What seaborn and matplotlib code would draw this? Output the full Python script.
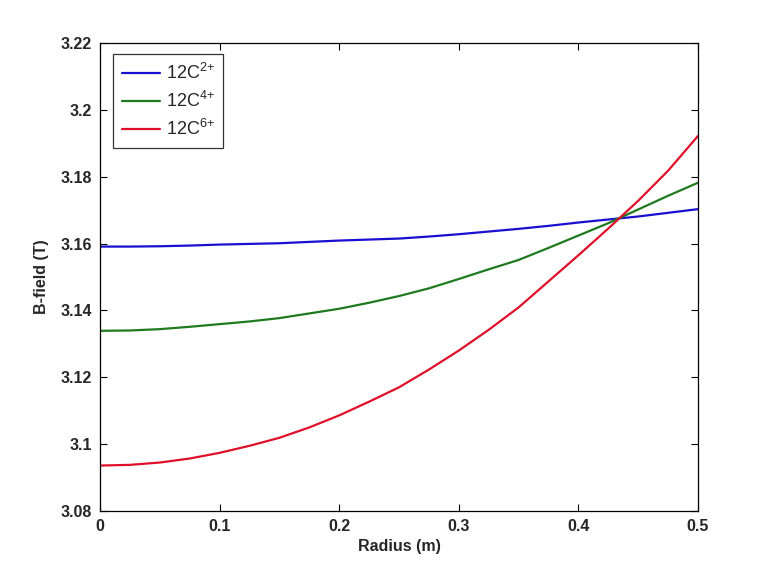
import numpy as np
import pandas as pd
import matplotlib
matplotlib.use("Agg")
import matplotlib.pyplot as plt
import seaborn as sns

radius = [0.0, 0.025, 0.05, 0.075, 0.1, 0.125, 0.15, 0.175, 0.2, 0.225, 0.25,
          0.275, 0.3, 0.325, 0.35, 0.375, 0.4, 0.425, 0.45, 0.475, 0.5]
b_c2 = [3.1591, 3.1591, 3.1592, 3.1594, 3.1597, 3.1599, 3.1601, 3.1605, 3.1609, 3.1612, 3.1615,
        3.1621, 3.1628, 3.1636, 3.1644, 3.1653, 3.1663, 3.1672, 3.1681, 3.1692, 3.1703]
b_c4 = [3.1339, 3.1340, 3.1344, 3.1351, 3.1359, 3.1367, 3.1377, 3.1391, 3.1405, 3.1423, 3.1443,
        3.1466, 3.1494, 3.1523, 3.1551, 3.1587, 3.1624, 3.1661, 3.1702, 3.1743, 3.1782]
b_c6 = [3.0936, 3.0938, 3.0945, 3.0957, 3.0974, 3.0995, 3.1019, 3.1050, 3.1086, 3.1127, 3.1170,
        3.1223, 3.1280, 3.1342, 3.1409, 3.1487, 3.1565, 3.1645, 3.1728, 3.1818, 3.1922]
series_labels = [r"12C$^{\mathregular{2{+}}}$", r"12C$^{\mathregular{4{+}}}$", r"12C$^{\mathregular{6{+}}}$"]
colors = ["#1a0fd0", "#1f7a1f", "#e0102a"]
xticks = [0, 0.1, 0.2, 0.3, 0.4, 0.5]
xticklabels = ["0", "0.1", "0.2", "0.3", "0.4", "0.5"]
yticks = [3.08, 3.1, 3.12, 3.14, 3.16, 3.18, 3.2, 3.22]
yticklabels = ["3.08", "3.1", "3.12", "3.14", "3.16", "3.18", "3.2", "3.22"]

frames = []
for lab, vals in zip(series_labels, [b_c2, b_c4, b_c6]):
    frames.append(pd.DataFrame({"Radius": radius, "B": vals, "Ion": lab}))
df = pd.concat(frames, ignore_index=True)

sns.set_style("white")
plt.rcParams["font.family"] = ["Liberation Sans", "DejaVu Sans"]
plt.rcParams["mathtext.fontset"] = "custom"
plt.rcParams["mathtext.rm"] = "Liberation Sans"
plt.rcParams["mathtext.it"] = "Liberation Sans"

fig = plt.figure(figsize=(7.71, 5.74), dpi=100)
ax = fig.add_axes([100/771, 63/574, 598/771, 468/574])

sns.lineplot(data=df, x="Radius", y="B", hue="Ion", palette=colors,
             hue_order=series_labels, linewidth=1.6, ax=ax)

ax.set_xlim(0, 0.5)
ax.set_ylim(3.08, 3.22)
ax.set_xticks(xticks)
ax.set_xticklabels(xticklabels)
ax.set_yticks(yticks)
ax.set_yticklabels(yticklabels)
for lbl in ax.get_xticklabels() + ax.get_yticklabels():
    lbl.set_fontweight("bold")
    lbl.set_fontsize(11.5)
ax.tick_params(direction="in", length=5, width=0.8, top=True, right=True,
               bottom=True, left=True, color="black", pad=6)
for sp in ax.spines.values():
    sp.set_visible(True)
    sp.set_color("black")
    sp.set_linewidth(0.9)

ax.set_xlabel("Radius (m)", fontsize=11.5, fontweight="bold", labelpad=3)
ax.set_ylabel("B-field (T)", fontsize=11.5, fontweight="bold", labelpad=8)

leg = ax.legend(loc="upper left", bbox_to_anchor=(0.022, 0.977), fontsize=13,
                frameon=True, fancybox=False, edgecolor="black",
                handlelength=2.1, handletextpad=0.3, borderpad=0.5,
                labelspacing=0.45, borderaxespad=0)
leg.get_frame().set_linewidth(0.9)
for line in leg.get_lines():
    line.set_linewidth(1.6)

fig.savefig("out.png", dpi=100, facecolor="white")
